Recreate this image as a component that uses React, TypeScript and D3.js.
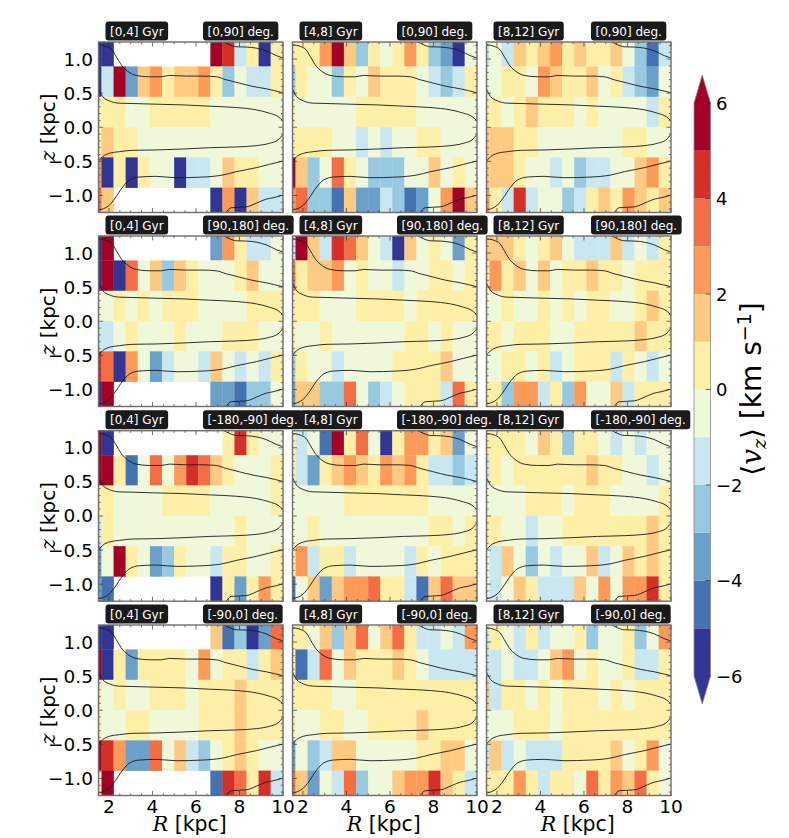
import React, { useRef, useEffect } from "react";
import * as d3 from "d3";

// colour bands, named by the centre value (km/s) of the band
const M = 5.5, D = 4.5, R = 3.5, O = 2.5, L = 1.5, Y = 0.5, G = -0.5;
const a = -1.5, b = -2.5, c = -3.5, d = -4.5, e = -5.5, _ = null;

const bandEdges = [-5, -4, -3, -2, -1, 0, 1, 2, 3, 4, 5];
const bandColors = ["#313695", "#4472b2", "#6aa0ca", "#97cae1", "#c8e7f1", "#eff8d9", "#fdefa6", "#fec980", "#fd9a58", "#f46d43", "#d62f27", "#a50026"];
const cbarTicks = [-6, -4, -2, 0, 2, 4, 6];

const rEdges = [1.111, 1.667, 2.222, 2.778, 3.333, 3.889, 4.444, 5, 5.556, 6.111, 6.667, 7.222, 7.778, 8.333, 8.889, 9.444, 10];
const zEdges = [1.333, 0.889, 0.444, 0, -0.444, -0.889, -1.333];
const rTicks = [2, 4, 6, 8, 10];
const zTicks = [-1, -0.5, 0, 0.5, 1];

const ageLabels = ["[0,4] Gyr", "[4,8] Gyr", "[8,12] Gyr"];
const phiLabels = ["[0,90] deg.", "[90,180] deg.", "[-180,-90] deg.", "[-90,0] deg."];

const p00 = [
  [e, e, _, _, _, _, _, _, _, _, M, D, a, Y, e, Y],
  [e, a, M, c, L, O, Y, L, L, O, Y, b, G, a, a, Y],
  [Y, Y, Y, G, G, Y, Y, Y, Y, Y, G, G, G, G, G, G],
  [Y, L, Y, Y, G, G, G, G, G, G, G, G, G, G, G, G],
  [O, e, Y, e, Y, G, G, e, a, a, G, L, Y, Y, G, G],
  [R, L, _, _, _, _, _, _, _, _, e, O, e, L, a, a],
];
const p01 = [
  [Y, Y, Y, O, M, L, b, Y, G, Y, O, Y, b, c, e, G],
  [b, Y, G, G, b, Y, G, L, Y, Y, Y, G, a, b, a, Y],
  [Y, G, G, G, G, G, Y, Y, Y, Y, Y, G, G, G, G, G],
  [Y, Y, Y, Y, G, G, a, G, a, G, G, Y, Y, G, G, G],
  [M, L, b, G, R, Y, G, b, b, b, G, G, L, G, Y, G],
  [O, R, b, b, d, L, c, c, a, b, d, c, G, O, M, L],
];
const p02 = [
  [a, G, a, L, Y, L, O, Y, L, Y, Y, L, G, b, d, a],
  [G, G, Y, Y, G, O, L, Y, Y, L, G, Y, a, b, c, G],
  [Y, Y, G, Y, L, Y, Y, Y, G, Y, G, G, G, G, a, Y],
  [L, L, L, Y, Y, G, G, G, G, G, G, G, Y, Y, G, G],
  [L, L, L, Y, G, G, a, G, b, a, a, G, G, L, O, Y],
  [O, Y, a, D, a, G, G, b, a, Y, L, Y, O, L, Y, L],
];
const p10 = [
  [e, M, _, _, _, _, _, _, _, _, c, O, Y, a, a, G],
  [e, M, e, R, G, L, b, L, Y, G, G, G, Y, L, G, G],
  [G, G, Y, G, Y, G, Y, Y, Y, G, G, G, G, Y, Y, Y],
  [a, a, G, Y, G, G, G, Y, G, G, G, Y, Y, Y, G, G],
  [D, R, e, O, G, c, a, G, G, a, L, G, a, G, a, Y],
  [e, M, _, _, _, _, _, _, _, _, c, c, d, b, b, G],
];
const p11 = [
  [a, M, L, a, D, R, L, G, a, e, L, G, Y, G, c, Y],
  [R, Y, L, L, O, G, Y, G, G, a, G, G, Y, Y, G, Y],
  [Y, Y, Y, G, G, G, Y, Y, Y, Y, G, Y, Y, Y, Y, Y],
  [Y, G, G, Y, G, G, G, G, G, G, Y, Y, G, Y, G, G],
  [b, Y, G, G, a, G, G, G, G, Y, Y, Y, Y, L, G, G],
  [c, L, L, b, b, R, G, b, a, G, Y, Y, Y, a, R, Y],
];
const p12 = [
  [L, L, L, Y, G, Y, L, G, a, a, a, L, a, G, a, Y],
  [Y, O, Y, L, G, L, G, Y, Y, L, Y, Y, G, Y, Y, Y],
  [G, G, Y, G, G, Y, G, Y, G, Y, Y, G, G, Y, L, Y],
  [Y, Y, G, Y, Y, Y, G, G, Y, Y, Y, Y, Y, L, Y, Y],
  [G, G, Y, Y, G, Y, a, G, Y, Y, Y, a, Y, G, a, G],
  [Y, Y, b, O, O, a, Y, b, O, G, G, L, a, Y, Y, Y],
];
const p20 = [
  [M, e, _, _, _, _, _, _, _, _, _, Y, D, Y, G, G],
  [M, M, Y, d, G, R, G, O, D, R, L, Y, G, G, G, Y],
  [Y, Y, G, G, G, G, Y, Y, Y, Y, G, G, G, G, G, Y],
  [a, Y, G, G, G, G, G, G, G, G, G, G, Y, G, G, G],
  [c, G, M, Y, G, c, b, Y, G, G, a, Y, Y, G, G, Y],
  [c, d, _, _, _, _, _, _, _, _, e, Y, c, Y, O, Y],
];
const p21 = [
  [Y, a, G, d, M, Y, R, G, e, Y, O, O, Y, L, c, G],
  [Y, a, c, Y, L, O, L, Y, O, L, O, Y, a, a, b, a],
  [G, G, G, G, G, Y, Y, Y, Y, Y, Y, Y, G, G, G, G],
  [G, G, Y, G, G, G, G, G, G, G, G, G, Y, Y, G, Y],
  [Y, O, a, Y, Y, a, G, G, G, G, a, Y, G, Y, Y, Y],
  [d, G, L, c, L, O, O, R, Y, Y, a, d, L, R, L, L],
];
const p22 = [
  [Y, Y, Y, Y, G, L, Y, b, Y, Y, G, a, G, a, G, G],
  [a, Y, G, Y, Y, Y, Y, Y, Y, L, Y, Y, G, G, a, G],
  [G, G, G, G, Y, Y, Y, G, Y, Y, Y, G, G, G, G, Y],
  [Y, Y, G, G, a, G, G, Y, Y, Y, Y, Y, Y, Y, L, Y],
  [G, a, L, G, b, G, a, G, G, L, a, G, L, Y, L, Y],
  [G, a, G, L, Y, a, a, a, L, G, O, G, O, O, D, Y],
];
const p30 = [
  [e, e, _, _, _, _, _, _, _, _, L, d, b, e, c, R],
  [M, e, Y, c, Y, Y, Y, Y, G, O, G, Y, Y, a, Y, L],
  [Y, G, Y, G, G, Y, Y, Y, G, Y, Y, Y, L, Y, Y, Y],
  [Y, G, G, Y, Y, G, G, G, G, Y, Y, Y, L, Y, Y, Y],
  [M, D, O, c, c, R, G, L, a, b, G, Y, L, Y, G, G],
  [Y, M, _, _, _, _, _, _, _, _, d, D, R, Y, D, a],
];
const p31 = [
  [Y, Y, G, L, b, L, R, G, L, R, Y, a, a, G, a, O],
  [Y, d, a, R, G, L, Y, Y, Y, L, Y, G, a, a, a, a],
  [Y, Y, Y, Y, G, G, Y, Y, Y, Y, Y, Y, Y, Y, Y, Y],
  [Y, G, G, Y, Y, G, G, Y, Y, Y, Y, L, Y, Y, Y, Y],
  [c, G, b, a, L, L, G, G, G, G, G, Y, Y, L, L, G],
  [R, L, c, G, a, R, b, G, G, L, O, O, D, L, Y, a],
];
const p32 = [
  [a, Y, G, a, Y, a, G, G, Y, b, G, G, Y, b, G, O],
  [a, a, G, a, a, G, L, O, G, Y, G, G, Y, a, a, Y],
  [L, a, Y, Y, G, Y, G, Y, Y, Y, G, Y, G, Y, Y, Y],
  [G, G, G, Y, Y, Y, G, Y, Y, Y, Y, Y, Y, Y, Y, Y],
  [a, L, a, G, a, a, a, Y, Y, Y, Y, L, G, Y, O, G],
  [Y, Y, Y, O, Y, a, Y, Y, G, R, Y, O, L, R, Y, G],
];
const panelValues = [
  [p00, p01, p02],
  [p10, p11, p12],
  [p20, p21, p22],
  [p30, p31, p32],
];

// density contours, [R, z], the same in every panel
const contourA = [[1.5, 1.21], [1.87, 1.186], [2.14, 1.137], [2.33, 1.04], [2.56, 0.917], [2.87, 0.819], [3.25, 0.76], [3.86, 0.74], [4.4, 0.74], [4.78, 0.76], [5.55, 0.75], [6.32, 0.75], [6.93, 0.74], [7.39, 0.696], [8.0, 0.647], [8.62, 0.598], [9.23, 0.564], [10, 0.505]];
const contourB = [[7.24, 1.26], [7.54, 1.21], [7.85, 1.18], [8.31, 1.176], [8.77, 1.16], [9.23, 1.12], [9.69, 1.05], [10, 1.015]];
const contourC = [[1.5, 0.574], [1.71, 0.45], [2.02, 0.387], [2.48, 0.353], [3.1, 0.348], [4.17, 0.338], [5.4, 0.328], [6.62, 0.309], [7.85, 0.289], [8.77, 0.255], [9.38, 0.206], [9.77, 0.157], [10, 0.093]];
const contourD = [[1.5, -0.505], [1.71, -0.431], [2.02, -0.382], [2.48, -0.358], [3.1, -0.338], [4.17, -0.333], [5.4, -0.319], [6.62, -0.3], [7.85, -0.289], [8.77, -0.27], [9.38, -0.235], [9.77, -0.186], [10, -0.103]];
const contourE = [[1.5, -1.216], [2.02, -1.142], [2.25, -1.054], [2.64, -0.873], [2.94, -0.775], [3.4, -0.73], [4.17, -0.72], [5.09, -0.74], [6.32, -0.73], [7.24, -0.7], [7.85, -0.652], [8.77, -0.593], [9.38, -0.544], [10, -0.495]];
const contourF = [[7.39, -1.25], [7.62, -1.18], [8.31, -1.167], [8.92, -1.093], [9.23, -1.054], [9.54, -1.034], [10, -0.995]];
const contours = [contourA, contourB, contourC, contourD, contourE, contourF];

const FONT = "'DejaVu Sans', sans-serif";
const FRAME = "#6e6e6e";

export default function App() {
  const svgRef = useRef<SVGSVGElement>(null);

  useEffect(() => {
    const svg = d3.select(svgRef.current).attr("width", 789).attr("height", 838).html("");
    const color = d3.scaleThreshold<number, string>().domain(bandEdges).range(bandColors);

    const panelW = 184.5;
    const panelH = 170.5;
    const lefts = [98.5, 292.5, 486.5];
    const tops = [42, 236, 430.7, 625];

    const x = d3.scaleLinear().domain([1.52, 10]).range([0, panelW]);
    const y = d3.scaleLinear().domain([-1.25, 1.25]).range([panelH, 0]);
    const line = d3.line().x((p) => x(p[0])).y((p) => y(p[1])).curve(d3.curveMonotoneX);

    svg.append("defs").append("clipPath").attr("id", "panel-clip")
      .append("rect").attr("width", panelW).attr("height", panelH);

    tops.forEach((top, row) => {
      lefts.forEach((left, col) => {
        const g = svg.append("g").attr("transform", `translate(${left},${top})`);
        const body = g.append("g").attr("clip-path", "url(#panel-clip)");

        panelValues[row][col].forEach((cells, zi) => {
          cells.forEach((v, ri) => {
            if (v === null) return;
            body.append("rect")
              .attr("x", x(rEdges[ri]))
              .attr("y", y(zEdges[zi]))
              .attr("width", x(rEdges[ri + 1]) - x(rEdges[ri]))
              .attr("height", y(zEdges[zi + 1]) - y(zEdges[zi]))
              .attr("fill", color(v))
              .attr("stroke", color(v))
              .attr("stroke-width", 0.3);
          });
        });

        contours.forEach((pts) => {
          body.append("path").attr("d", line(pts as [number, number][]))
            .attr("fill", "none").attr("stroke", "#1a1a1a").attr("stroke-width", 0.9);
        });

        // ticks point inward on all four sides
        const tick = (x1: number, y1: number, x2: number, y2: number) =>
          g.append("line").attr("x1", x1).attr("y1", y1).attr("x2", x2).attr("y2", y2)
            .attr("stroke", "#333").attr("stroke-width", 0.7);
        d3.range(2, 10.01, 0.5).forEach((v) => {
          const len = v % 2 === 0 ? 4.5 : 2.2;
          tick(x(v), panelH, x(v), panelH - len);
          tick(x(v), 0, x(v), len);
        });
        d3.range(-12, 13).forEach((i) => {
          const v = i / 10;
          const len = i % 5 === 0 ? 4.5 : 2.2;
          tick(0, y(v), len, y(v));
          tick(panelW, y(v), panelW - len, y(v));
        });

        g.append("rect").attr("width", panelW).attr("height", panelH)
          .attr("fill", "none").attr("stroke", FRAME).attr("stroke-width", 1.4);

        if (col === 0) {
          zTicks.forEach((v) => {
            g.append("text").attr("x", -5.5).attr("y", y(v) + 6.5).attr("text-anchor", "end")
              .attr("font-family", FONT).attr("font-size", 18.5).attr("fill", "#000")
              .text(d3.format(".1f")(v).replace("-", "\u2212"));
          });
          const label = g.append("text")
            .attr("transform", `translate(-44,${panelH / 2}) rotate(-90)`)
            .attr("text-anchor", "middle").attr("font-family", FONT).attr("font-size", 20);
          label.append("tspan").attr("font-family", "'DejaVu Serif', serif").attr("font-style", "italic").text("z");
          label.append("tspan").text(" [kpc]");
        }
        if (row === 3) {
          rTicks.forEach((v) => {
            g.append("text").attr("x", x(v)).attr("y", panelH + 17).attr("text-anchor", "middle")
              .attr("font-family", FONT).attr("font-size", 18.5).attr("fill", "#000").text(v);
          });
          const label = g.append("text").attr("x", panelW / 2 - 1).attr("y", panelH + 35.5)
            .attr("text-anchor", "middle").attr("font-family", FONT).attr("font-size", 20.5);
          label.append("tspan").attr("font-family", "'DejaVu Serif', serif").attr("font-style", "italic").text("R");
          label.append("tspan").text(" [kpc]");
        }

        const tag = (tx: number, str: string) => {
          const box = g.append("rect").attr("y", -20.5).attr("height", 19).attr("rx", 3)
            .attr("fill", "#1a1a1a");
          const t = g.append("text").attr("x", tx).attr("y", -6.5)
            .attr("font-family", FONT).attr("font-size", 12).attr("fill", "#fff").text(str);
          const w = (t.node() as SVGTextElement).getComputedTextLength();
          box.attr("x", tx - 4.5).attr("width", w + 9);
        };
        tag(11.5, ageLabels[col]);
        tag(109, phiLabels[row]);
      });
    });

    // colour bar
    const cbX = 694;
    const cbW = 16.5;
    const cb = d3.scaleLinear().domain([-6, 6]).range([676, 103]);
    const levels = [-6, ...bandEdges, 6];
    bandColors.forEach((col, i) => {
      svg.append("rect").attr("x", cbX).attr("width", cbW)
        .attr("y", cb(levels[i + 1])).attr("height", cb(levels[i]) - cb(levels[i + 1]))
        .attr("fill", col);
    });
    svg.append("path").attr("d", `M${cbX},103 L${cbX + cbW / 2},75 L${cbX + cbW},103 Z`).attr("fill", bandColors[11]);
    svg.append("path").attr("d", `M${cbX},676 L${cbX + cbW / 2},704 L${cbX + cbW},676 Z`).attr("fill", bandColors[0]);
    svg.append("path")
      .attr("d", `M${cbX},103 L${cbX + cbW / 2},75 L${cbX + cbW},103 L${cbX + cbW},676 L${cbX + cbW / 2},704 L${cbX},676 Z`)
      .attr("fill", "none").attr("stroke", "#8a8a8a").attr("stroke-width", 0.8);

    cbarTicks.forEach((v) => {
      svg.append("line").attr("x1", cbX + cbW - 5).attr("x2", cbX + cbW).attr("y1", cb(v)).attr("y2", cb(v))
        .attr("stroke", "#333").attr("stroke-width", 0.7);
      svg.append("text").attr("x", 716).attr("y", cb(v) + 6.5)
        .attr("font-family", FONT).attr("font-size", 18).attr("fill", "#000")
        .text(String(v).replace("-", "\u2212"));
    });

    const cbLabel = svg.append("text")
      .attr("transform", "translate(761,389) rotate(-90)")
      .attr("text-anchor", "middle").attr("font-family", FONT).attr("font-size", 28);
    cbLabel.append("tspan").text("\u27e8");
    cbLabel.append("tspan").attr("font-family", "'DejaVu Serif', serif").attr("font-style", "italic").text("v");
    cbLabel.append("tspan").attr("font-family", "'DejaVu Serif', serif").attr("font-style", "italic")
      .attr("font-size", 19).attr("dy", 5).text("z");
    cbLabel.append("tspan").attr("dy", -5).text("\u27e9 [km s");
    cbLabel.append("tspan").attr("font-size", 19).attr("dy", -10).text("\u22121");
    cbLabel.append("tspan").attr("dy", 10).text("]");
  }, []);

  return <svg ref={svgRef} style={{ position: "absolute", left: 0, top: 0 }} />;
}
